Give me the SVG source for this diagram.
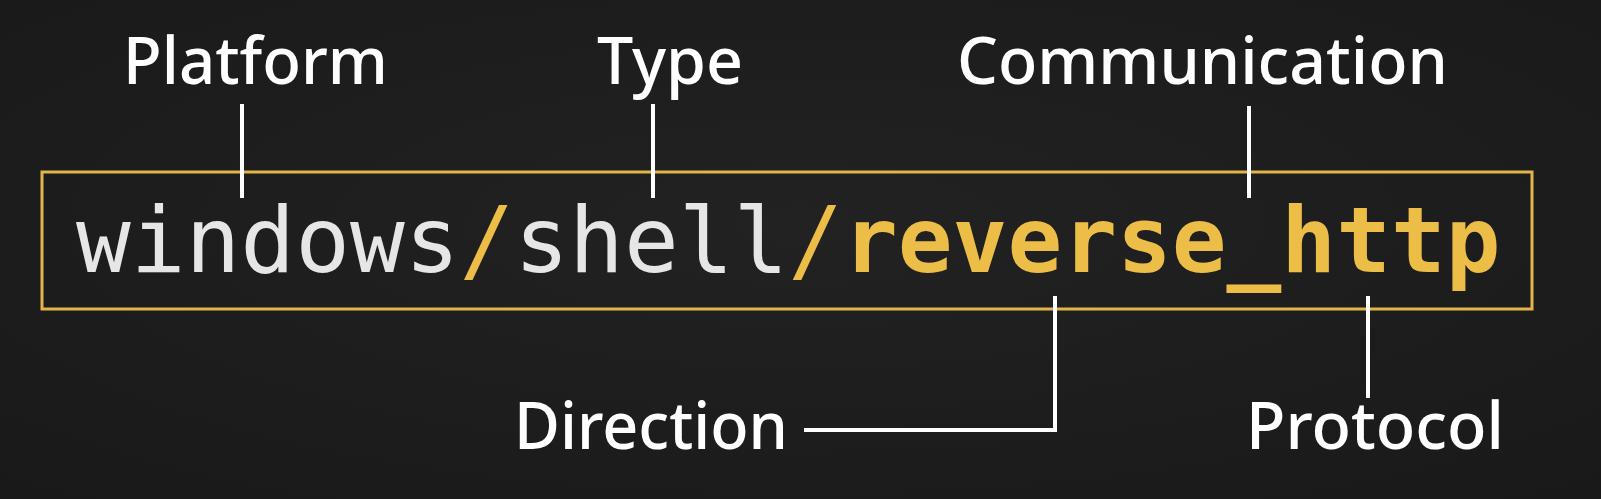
<svg xmlns="http://www.w3.org/2000/svg" width="1601" height="499" viewBox="0 0 1601 499">
  <style>
    .label { font-family: "Noto Sans", "DejaVu Sans", sans-serif; font-size: 65px; font-weight: 500; fill: #ffffff; }
    .code { font-family: "DejaVu Sans Mono", "Liberation Mono", monospace; font-size: 91px; }
    .plain { fill: #e6e6e6; }
    .hl { fill: #ecbd47; }
    .bold { font-weight: bold; fill: #ecbd47; }
    .conn { stroke: #ffffff; stroke-width: 4; fill: none; stroke-linecap: square; }
  </style>
  <defs>
    <radialGradient id="bg" cx="50%" cy="45%" r="75%">
      <stop offset="0" stop-color="#222222"/>
      <stop offset="1" stop-color="#191919"/>
    </radialGradient>
  </defs>
  <rect x="0" y="0" width="1601" height="499" fill="url(#bg)"/>

  <g id="payload">
    <rect x="42" y="172" width="1490" height="137" fill="none" stroke="#e2b54a" stroke-width="3"/>
    <text class="code" x="76" y="272"><tspan class="plain">windows</tspan><tspan class="hl">/</tspan><tspan class="plain">shell</tspan><tspan class="hl">/</tspan><tspan class="bold">reverse_http</tspan></text>
  </g>

  <g id="connectors">
    <line class="conn" x1="242" y1="106" x2="242" y2="196"/>
    <line class="conn" x1="653" y1="106" x2="653" y2="196"/>
    <line class="conn" x1="1249" y1="108" x2="1249" y2="196"/>
    <polyline class="conn" points="1055,298 1055,430 806,430"/>
    <line class="conn" x1="1368" y1="298" x2="1368" y2="396"/>
  </g>

  <g id="platform"><text class="label" x="123" y="84" textLength="265" lengthAdjust="spacingAndGlyphs">Platform</text></g>
  <g id="type"><text class="label" x="597" y="84" textLength="146" lengthAdjust="spacingAndGlyphs">Type</text></g>
  <g id="communication"><text class="label" x="957" y="84" textLength="491" lengthAdjust="spacingAndGlyphs">Communication</text></g>
  <g id="direction"><text class="label" x="514" y="449" textLength="274" lengthAdjust="spacingAndGlyphs">Direction</text></g>
  <g id="protocol"><text class="label" x="1246" y="449" textLength="258" lengthAdjust="spacingAndGlyphs">Protocol</text></g>
</svg>
